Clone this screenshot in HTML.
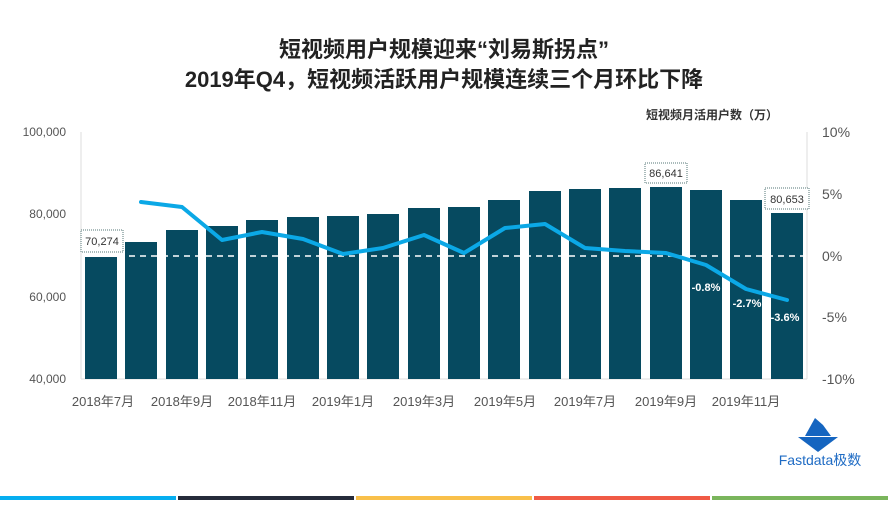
<!DOCTYPE html>
<html><head><meta charset="utf-8"><style>
body{margin:0;width:888px;height:500px;background:#fff;overflow:hidden;font-family:"Liberation Sans","Noto Sans CJK SC",sans-serif}
</style></head><body>
<svg width="888" height="500" xmlns="http://www.w3.org/2000/svg" font-family="Liberation Sans, Noto Sans CJK SC, sans-serif">
<text x="444" y="57" text-anchor="middle" font-size="22" font-weight="bold" fill="#222">短视频用户规模迎来“刘易斯拐点”</text>
<text x="444" y="87" text-anchor="middle" font-size="22" font-weight="bold" fill="#222">2019年Q4，短视频活跃用户规模连续三个月环比下降</text>
<text x="712" y="119" text-anchor="middle" font-size="12" font-weight="bold" fill="#333">短视频月活用户数（万）</text>
<g font-size="12" fill="#555">
<text x="66" y="136" text-anchor="end">100,000</text>
<text x="66" y="218" text-anchor="end">80,000</text>
<text x="66" y="301" text-anchor="end">60,000</text>
<text x="66" y="383" text-anchor="end">40,000</text>
<text x="822" y="137" font-size="14">10%</text>
<text x="822" y="199" font-size="14">5%</text>
<text x="822" y="261" font-size="14">0%</text>
<text x="822" y="322" font-size="14">-5%</text>
<text x="822" y="384" font-size="14">-10%</text>
</g>
<line x1="81" y1="132" x2="81" y2="379" stroke="#ddd"/>
<line x1="807" y1="132" x2="807" y2="379" stroke="#ddd"/>
<line x1="81" y1="379" x2="807" y2="379" stroke="#ddd"/>
<g fill="#064a60">
<rect x="85" y="257" width="32" height="122"/>
<rect x="125" y="242" width="32" height="137"/>
<rect x="166" y="230" width="32" height="149"/>
<rect x="206" y="226" width="32" height="153"/>
<rect x="246" y="220" width="32" height="159"/>
<rect x="287" y="217" width="32" height="162"/>
<rect x="327" y="216" width="32" height="163"/>
<rect x="367" y="214" width="32" height="165"/>
<rect x="408" y="208" width="32" height="171"/>
<rect x="448" y="207" width="32" height="172"/>
<rect x="488" y="200" width="32" height="179"/>
<rect x="529" y="191" width="32" height="188"/>
<rect x="569" y="189" width="32" height="190"/>
<rect x="609" y="188" width="32" height="191"/>
<rect x="650" y="187" width="32" height="192"/>
<rect x="690" y="190" width="32" height="189"/>
<rect x="730" y="200" width="32" height="179"/>
<rect x="771" y="213" width="32" height="166"/>
</g>
<line x1="85" y1="256" x2="805" y2="256" stroke="#fff" stroke-width="1.5" stroke-dasharray="6,5"/>
<polyline fill="none" stroke="#0ba8e6" stroke-width="4" stroke-linejoin="round" stroke-linecap="round"
points="141,202 182,207 222,240 262,232 303,239 343,254 383,248 424,235 464,253 505,228 545,224 585,248 625,251 666,253 706,265 746,289 787,300"/>
<g font-size="11" fill="#333">
<rect x="81" y="230" width="42" height="22" fill="#fff" stroke="#577" stroke-dasharray="1,1"/>
<text x="102" y="245" text-anchor="middle">70,274</text>
<rect x="645" y="163" width="42" height="20" fill="#fff" stroke="#577" stroke-dasharray="1,1"/>
<text x="666" y="177" text-anchor="middle">86,641</text>
<rect x="765" y="188" width="44" height="21" fill="#fff" stroke="#577" stroke-dasharray="1,1"/>
<text x="787" y="203" text-anchor="middle">80,653</text>
</g>
<g font-size="11" font-weight="bold" fill="#fff">
<text x="706" y="291" text-anchor="middle">-0.8%</text>
<text x="747" y="307" text-anchor="middle">-2.7%</text>
<text x="785" y="321" text-anchor="middle">-3.6%</text>
</g>
<g font-size="13" fill="#555" text-anchor="middle">
<text x="103" y="406">2018年7月</text>
<text x="182" y="406">2018年9月</text>
<text x="262" y="406">2018年11月</text>
<text x="343" y="406">2019年1月</text>
<text x="424" y="406">2019年3月</text>
<text x="505" y="406">2019年5月</text>
<text x="585" y="406">2019年7月</text>
<text x="666" y="406">2019年9月</text>
<text x="746" y="406">2019年11月</text>
</g>
<g fill="#1565c0">
<polygon points="815,418 805,436 831,436 823,425"/>
<polygon points="798,437 838,437 818,452"/>
</g>
<text x="820" y="465" text-anchor="middle" font-size="14" fill="#1e6bc4">Fastdata极数</text>
<rect x="0" y="496" width="176" height="4" fill="#06aef0"/>
<rect x="178" y="496" width="176" height="4" fill="#252b3a"/>
<rect x="356" y="496" width="176" height="4" fill="#f9c04a"/>
<rect x="534" y="496" width="176" height="4" fill="#f05a45"/>
<rect x="712" y="496" width="176" height="4" fill="#7ab55c"/>
</svg>
</body></html>
